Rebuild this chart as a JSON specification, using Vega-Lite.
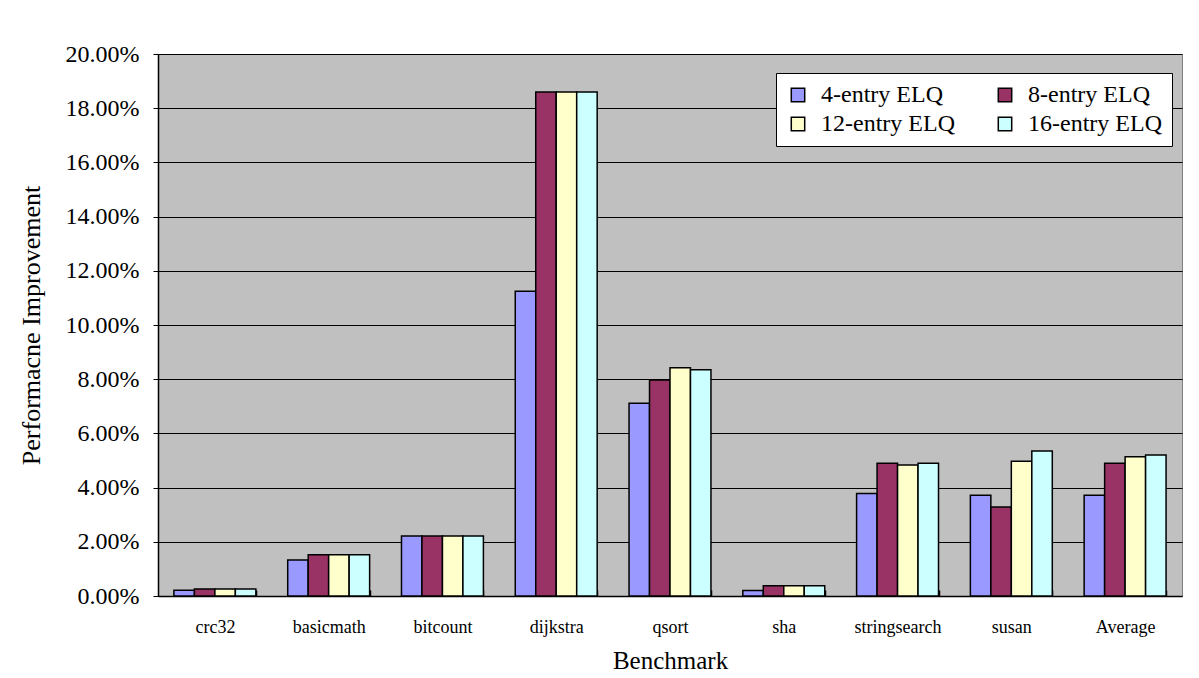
{
  "$schema": "https://vega.github.io/schema/vega-lite/v6.json",
  "width": 1024,
  "height": 542,
  "autosize": {"type": "none"},
  "padding": {"left": 158, "top": 54, "right": 17, "bottom": 82},
  "background": "white",
  "config": {
    "font": "Liberation Serif",
    "view": {"fill": "#C0C0C0", "stroke": "#808080", "strokeWidth": 1}
  },
  "data": {
    "values": [
      {"benchmark": "crc32", "config": "4-entry ELQ", "improvement": 0.0021},
      {"benchmark": "crc32", "config": "8-entry ELQ", "improvement": 0.0026},
      {"benchmark": "crc32", "config": "12-entry ELQ", "improvement": 0.0026},
      {"benchmark": "crc32", "config": "16-entry ELQ", "improvement": 0.0026},
      {"benchmark": "basicmath", "config": "4-entry ELQ", "improvement": 0.0133},
      {"benchmark": "basicmath", "config": "8-entry ELQ", "improvement": 0.0152},
      {"benchmark": "basicmath", "config": "12-entry ELQ", "improvement": 0.0152},
      {"benchmark": "basicmath", "config": "16-entry ELQ", "improvement": 0.0152},
      {"benchmark": "bitcount", "config": "4-entry ELQ", "improvement": 0.0221},
      {"benchmark": "bitcount", "config": "8-entry ELQ", "improvement": 0.0221},
      {"benchmark": "bitcount", "config": "12-entry ELQ", "improvement": 0.0221},
      {"benchmark": "bitcount", "config": "16-entry ELQ", "improvement": 0.0221},
      {"benchmark": "dijkstra", "config": "4-entry ELQ", "improvement": 0.1125},
      {"benchmark": "dijkstra", "config": "8-entry ELQ", "improvement": 0.1860},
      {"benchmark": "dijkstra", "config": "12-entry ELQ", "improvement": 0.1860},
      {"benchmark": "dijkstra", "config": "16-entry ELQ", "improvement": 0.1860},
      {"benchmark": "qsort", "config": "4-entry ELQ", "improvement": 0.0711},
      {"benchmark": "qsort", "config": "8-entry ELQ", "improvement": 0.0797},
      {"benchmark": "qsort", "config": "12-entry ELQ", "improvement": 0.0842},
      {"benchmark": "qsort", "config": "16-entry ELQ", "improvement": 0.0835},
      {"benchmark": "sha", "config": "4-entry ELQ", "improvement": 0.0020},
      {"benchmark": "sha", "config": "8-entry ELQ", "improvement": 0.0038},
      {"benchmark": "sha", "config": "12-entry ELQ", "improvement": 0.0038},
      {"benchmark": "sha", "config": "16-entry ELQ", "improvement": 0.0038},
      {"benchmark": "stringsearch", "config": "4-entry ELQ", "improvement": 0.0378},
      {"benchmark": "stringsearch", "config": "8-entry ELQ", "improvement": 0.0490},
      {"benchmark": "stringsearch", "config": "12-entry ELQ", "improvement": 0.0483},
      {"benchmark": "stringsearch", "config": "16-entry ELQ", "improvement": 0.0490},
      {"benchmark": "susan", "config": "4-entry ELQ", "improvement": 0.0372},
      {"benchmark": "susan", "config": "8-entry ELQ", "improvement": 0.0328},
      {"benchmark": "susan", "config": "12-entry ELQ", "improvement": 0.0497},
      {"benchmark": "susan", "config": "16-entry ELQ", "improvement": 0.0535},
      {"benchmark": "Average", "config": "4-entry ELQ", "improvement": 0.0372},
      {"benchmark": "Average", "config": "8-entry ELQ", "improvement": 0.0490},
      {"benchmark": "Average", "config": "12-entry ELQ", "improvement": 0.0514},
      {"benchmark": "Average", "config": "16-entry ELQ", "improvement": 0.0520}
    ]
  },
  "mark": {"type": "bar", "stroke": "black", "strokeWidth": 1.5},
  "encoding": {
    "x": {
      "field": "benchmark",
      "type": "nominal",
      "sort": ["crc32", "basicmath", "bitcount", "dijkstra", "qsort", "sha", "stringsearch", "susan", "Average"],
      "scale": {"paddingInner": 0.28, "paddingOuter": 0.14},
      "axis": {
        "title": "Benchmark",
        "titleFont": "Liberation Serif",
        "titleFontSize": 25,
        "titleFontWeight": "normal",
        "titleColor": "black",
        "titlePadding": 12,
        "labelAngle": 0,
        "labelFont": "Liberation Serif",
        "labelFontSize": 18,
        "labelColor": "black",
        "labelPadding": 28,
        "domainColor": "black",
        "domainWidth": 1.5,
        "tickColor": "black",
        "tickWidth": 1.5,
        "tickSize": -6,
        "tickBand": "extent",
        "grid": false
      }
    },
    "xOffset": {
      "field": "config",
      "type": "nominal",
      "sort": ["4-entry ELQ", "8-entry ELQ", "12-entry ELQ", "16-entry ELQ"],
      "scale": {"paddingInner": 0, "paddingOuter": 0}
    },
    "y": {
      "field": "improvement",
      "type": "quantitative",
      "scale": {"domain": [0, 0.2], "nice": false},
      "axis": {
        "title": "Performacne Improvement",
        "titleFont": "Liberation Serif",
        "titleFontSize": 26,
        "titleFontWeight": "normal",
        "titleColor": "black",
        "titlePadding": 21,
        "format": ".2%",
        "values": [0, 0.02, 0.04, 0.06, 0.08, 0.1, 0.12, 0.14, 0.16, 0.18, 0.2],
        "labelFont": "Liberation Serif",
        "labelFontSize": 24,
        "labelColor": "black",
        "labelPadding": 14,
        "domainColor": "black",
        "domainWidth": 1.5,
        "tickColor": "black",
        "tickSize": 5,
        "grid": true,
        "gridColor": "black",
        "gridWidth": 1,
        "gridOpacity": 1
      }
    },
    "color": {
      "field": "config",
      "type": "nominal",
      "sort": ["4-entry ELQ", "8-entry ELQ", "12-entry ELQ", "16-entry ELQ"],
      "scale": {
        "domain": ["4-entry ELQ", "8-entry ELQ", "12-entry ELQ", "16-entry ELQ"],
        "range": ["#9999FF", "#993366", "#FFFFCC", "#CCFFFF"]
      },
      "legend": {
        "title": null,
        "orient": "none",
        "direction": "horizontal",
        "legendX": 618,
        "legendY": 19,
        "columns": 2,
        "columnPadding": 38,
        "rowPadding": 5,
        "padding": 10,
        "fillColor": "white",
        "strokeColor": "black",
        "symbolType": "square",
        "symbolSize": 180,
        "symbolStrokeColor": "black",
        "symbolStrokeWidth": 1.5,
        "symbolOpacity": 1,
        "labelFont": "Liberation Serif",
        "labelFontSize": 24,
        "labelColor": "black",
        "labelOffset": 11,
        "labelLimit": 300
      }
    }
  }
}
